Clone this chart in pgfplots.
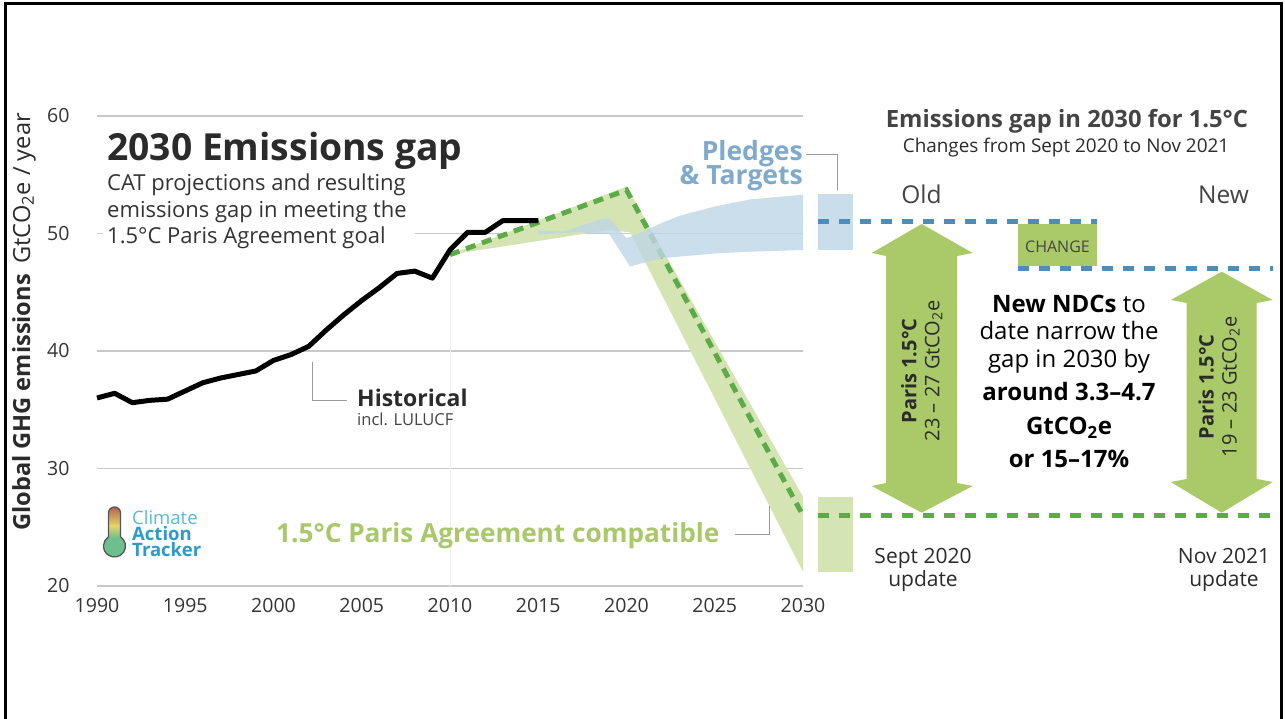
\documentclass[border=0pt]{standalone}
\usepackage{pgfplots}
\pgfplotsset{compat=1.18}
\usepackage{fontspec}
\setmainfont{Open Sans}
\definecolor{gridc}{HTML}{C8C8C8}
\definecolor{tickc}{HTML}{333333}
\definecolor{darktxt}{HTML}{2B2B2B}
\definecolor{graytxt}{HTML}{444444}
\definecolor{greendash}{HTML}{5CAB48}
\definecolor{greenband}{HTML}{D5E4B3}
\definecolor{blueband}{HTML}{BFD6E6}
\definecolor{bluerect}{HTML}{CADDEA}
\definecolor{bluedash}{HTML}{4D8DBA}
\definecolor{arrowgreen}{HTML}{AAC968}
\definecolor{pledgetxt}{HTML}{7FAACB}
\definecolor{paristxt}{HTML}{A8C86A}
\definecolor{leader}{HTML}{9A9A9A}
\definecolor{faint}{HTML}{EEF2E2}
\definecolor{thermored}{HTML}{B0604E}
\definecolor{thermoyellow}{HTML}{E6D46C}
\definecolor{thermogreen}{HTML}{6DC08D}
\definecolor{thermoline}{HTML}{555555}
\definecolor{catlight}{HTML}{5AB8DC}
\definecolor{catdark}{HTML}{2E9ACB}
\newcommand\fs[2]{\fontsize{#1}{#2}\selectfont}

\begin{document}
\begin{tikzpicture}
\useasboundingbox (0,0) rectangle (1285pt,719pt);
\fill[white] (0,0) rectangle (1285pt,719pt);
\begin{axis}[
  at={(97pt,133pt)}, anchor=south west,
  scale only axis, width=706pt, height=470pt,
  xmin=1990, xmax=2030, ymin=20, ymax=60,
  clip=false,
  axis line style={draw=none},
  major tick length=0pt,
  xtick={1990,1995,...,2030},
  ytick={20,30,...,60},
  ymajorgrids,
  grid style={line width=1.2pt, color=gridc},
  /pgf/number format/1000 sep={},
  /pgf/number format/assume math mode=true,
  tick label style={font=\fs{19.5}{23}, text=tickc},
  xticklabel style={yshift=-8.5pt},
  yticklabel style={xshift=-24pt},
]
% faint edge at 2010
\addplot[draw=faint, line width=1pt] coordinates {(2010,20) (2010,48.2)};
% 1.5C band
\addplot[fill=greenband, draw=none] coordinates {
 (2010,48.2) (2020,54.0) (2030,27.6) (2030,21.2) (2020.2,50.1) (2019,50.3) (2010,48.2)} --cycle;
% 1.5C pathway
\addplot[greendash, line width=5pt, dash pattern=on 10pt off 7pt] coordinates {
 (2010,48.2) (2020,53.7) (2030,26.0)};
% pledges & targets band
\addplot[fill=blueband, fill opacity=0.8, draw=none] coordinates {
 (2015,50.2) (2016.5,50.2) (2017.5,50.7) (2018.5,51.2) (2019,51.3) (2020,49.6)
 (2021,50.2) (2022,50.9) (2023,51.5) (2025,52.3) (2027,52.9) (2030,53.3)
 (2030,48.6) (2027,48.45) (2025,48.3) (2022,47.9) (2020.2,47.2) (2019,50.0)
 (2017,50.1) (2015,49.9)} --cycle;
% historical
\addplot[black, line width=5pt, line join=round] coordinates {
 (1990,36.0) (1991,36.4) (1992,35.6) (1993,35.8) (1994,35.9) (1995,36.6)
 (1996,37.3) (1997,37.7) (1998,38.0) (1999,38.3) (2000,39.2) (2001,39.7)
 (2002,40.4) (2003,41.8) (2004,43.1) (2005,44.3) (2006,45.4) (2007,46.6)
 (2008,46.8) (2009,46.2) (2010,48.6) (2011,50.1) (2012,50.1) (2013,51.1)
 (2014,51.1) (2015,51.1)};
% 2030 ranges beside the axis
\addplot[fill=bluerect, draw=none] coordinates {(2030.85,53.36) (2032.83,53.36) (2032.83,48.6) (2030.85,48.6)} --cycle;
\addplot[fill=greenband, draw=none] coordinates {(2030.85,27.57) (2032.83,27.57) (2032.83,21.19) (2030.85,21.19)} --cycle;
% change box
\addplot[fill=arrowgreen, draw=none] coordinates {(2042.18,50.81) (2046.66,50.81) (2046.66,47.26) (2042.18,47.26)} --cycle;
% gap levels
\addplot[bluedash, line width=5pt, dash pattern=on 11pt off 10pt] coordinates {(2030.85,51.0) (2046.66,51.0)};
\addplot[bluedash, line width=5pt, dash pattern=on 11pt off 10pt] coordinates {(2042.18,47.05) (2056.63,47.05)};
\addplot[greendash, line width=5pt, dash pattern=on 11pt off 10pt] coordinates {(2030.85,25.96) (2056.63,25.96)};
\end{axis}

% thermometer logo (canvas coordinates)
\def\thermopath{(108.5pt,182.2pt) -- (108.5pt,206pt) arc[start angle=180,end angle=0,radius=6pt] -- (120.5pt,182.2pt) arc[start angle=56.9,end angle=-236.9,radius=11pt] -- cycle}
\begin{scope}
\clip \thermopath;
\fill[thermogreen] (100pt,150pt) rectangle (130pt,215pt);
\shade[top color=thermored, bottom color=thermoyellow] (100pt,193pt) rectangle (130pt,213pt);
\shade[top color=thermoyellow, bottom color=thermogreen] (100pt,181pt) rectangle (130pt,193.2pt);
\end{scope}
\draw[thermoline, line width=1.3pt] \thermopath;

\begin{scope}[shift={(0pt,719pt)}, x=1pt, y=-1pt]
% frame
\draw[black, line width=3pt] (5,719) -- (5,4) -- (1281,4) -- (1281,719);
% y label
\node[rotate=90, anchor=center, text=darktxt, inner sep=0pt] at (24,322)
  {\fs{23.6}{26}\textbf{Global GHG emissions}\hspace{0.45em}GtCO\textsubscript{2}e / year};
% title and subtitle
\fill[white] (103,227) rectangle (415,239);
\node[anchor=base west, inner sep=0pt, text=darktxt] at (107,161) {\fs{37.3}{40}\bfseries 2030 Emissions gap};
\node[anchor=base west, inner sep=0pt, text=tickc] at (107,190.7) {\fs{22}{26}CAT projections and resulting};
\node[anchor=base west, inner sep=0pt, text=tickc] at (107,217.5) {\fs{22}{26}emissions gap in meeting the};
\node[anchor=base west, inner sep=0pt, text=tickc] at (107,243.5) {\fs{22}{26}1.5°C Paris Agreement goal};
% historical
\draw[leader, line width=1pt] (312,362) -- (312,401) -- (347,401);
\node[anchor=base west, inner sep=0pt, text=darktxt] at (357,407) {\fs{23}{28}\bfseries Historical};
\node[anchor=base west, inner sep=0pt, text=graytxt] at (357,426) {\fs{16.5}{20}incl. LULUCF};
% pledges
\draw[leader, line width=1pt] (806,155) -- (837,155) -- (837,190);
\node[anchor=base east, inner sep=0pt, text=pledgetxt] at (803,161) {\fs{26.5}{30}\bfseries Pledges};
\node[anchor=base east, inner sep=0pt, text=pledgetxt] at (803,185) {\fs{26.5}{30}\bfseries \& Targets};
% paris compatible
\draw[leader, line width=1pt] (735,535) -- (769,535) -- (769,506);
\node[anchor=base west, inner sep=0pt, text=paristxt] at (276,543) {\fs{26.2}{28}\bfseries 1.5°C Paris Agreement compatible};
% logo text
\node[anchor=base west, inner sep=0pt, text=catlight] at (132,525) {\fs{18.5}{20}Climate};
\node[anchor=base west, inner sep=0pt, text=catdark] at (132,541) {\fs{18.5}{20}\bfseries Action};
\node[anchor=base west, inner sep=0pt, text=catdark] at (132,557) {\fs{18.5}{20}\bfseries Tracker};
% right panel titles
\node[anchor=base, inner sep=0pt, text=graytxt] at (1067,128) {\fs{23.8}{28}\bfseries Emissions gap in 2030 for 1.5°C};
\node[anchor=base, inner sep=0pt, text=darktxt] at (1066,153) {\fs{18.9}{22}Changes from Sept 2020 to Nov 2021};
\node[anchor=base, inner sep=0pt, text=graytxt] at (921.5,204) {\fs{24.5}{30}Old};
\node[anchor=base, inner sep=0pt, text=graytxt] at (1223.5,204) {\fs{24.5}{30}New};
\node[anchor=base, inner sep=0pt, text=graytxt] at (1057.5,252.5) {\fs{16}{20}CHANGE};
% arrows
\fill[arrowgreen] (921.7,224) -- (972.7,253) -- (957,256) -- (957,483) -- (972.7,486) -- (921.7,512.7)
  -- (871.7,486) -- (886,483) -- (886,256) -- (871.7,253) -- cycle;
\fill[arrowgreen] (1221.7,271.7) -- (1272.7,300) -- (1256.7,303) -- (1256.7,479) -- (1272.7,482) -- (1221.7,512.7)
  -- (1170.7,482) -- (1186.7,479) -- (1186.7,303) -- (1170.7,300) -- cycle;
\node[rotate=90, align=center, inner sep=0pt, text=darktxt, font=\fs{20}{23}] at (921.7,371)
  {\textbf{Paris 1.5°C}\\ 23 – 27 GtCO\textsubscript{2}e};
\node[rotate=90, align=center, inner sep=0pt, text=darktxt, font=\fs{20}{23}] at (1219,387)
  {\textbf{Paris 1.5°C}\\ 19 – 23 GtCO\textsubscript{2}e};
% middle text
\node[anchor=base, inner sep=0pt, text=black] at (1069,313) {\fs{24}{28}\textbf{New NDCs} to};
\node[anchor=base, inner sep=0pt, text=black] at (1069,340) {\fs{24}{28}date narrow the};
\node[anchor=base, inner sep=0pt, text=black] at (1069,368) {\fs{24}{28}gap in 2030 by};
\node[anchor=base, inner sep=0pt, text=black] at (1069,401) {\fs{24}{28}\bfseries around 3.3–4.7};
\node[anchor=base, inner sep=0pt, text=black] at (1069,435) {\fs{24}{28}\bfseries GtCO\textsubscript{2}e};
\node[anchor=base, inner sep=0pt, text=black] at (1069,468) {\fs{24}{28}\bfseries or 15–17\%};
% update labels
\node[anchor=base, inner sep=0pt, text=darktxt] at (923,564) {\fs{21}{24}Sept 2020};
\node[anchor=base, inner sep=0pt, text=darktxt] at (923,587) {\fs{21}{24}update};
\node[anchor=base, inner sep=0pt, text=darktxt] at (1224,564) {\fs{21}{24}Nov 2021};
\node[anchor=base, inner sep=0pt, text=darktxt] at (1224,587) {\fs{21}{24}update};
\end{scope}
\end{tikzpicture}
\end{document}
